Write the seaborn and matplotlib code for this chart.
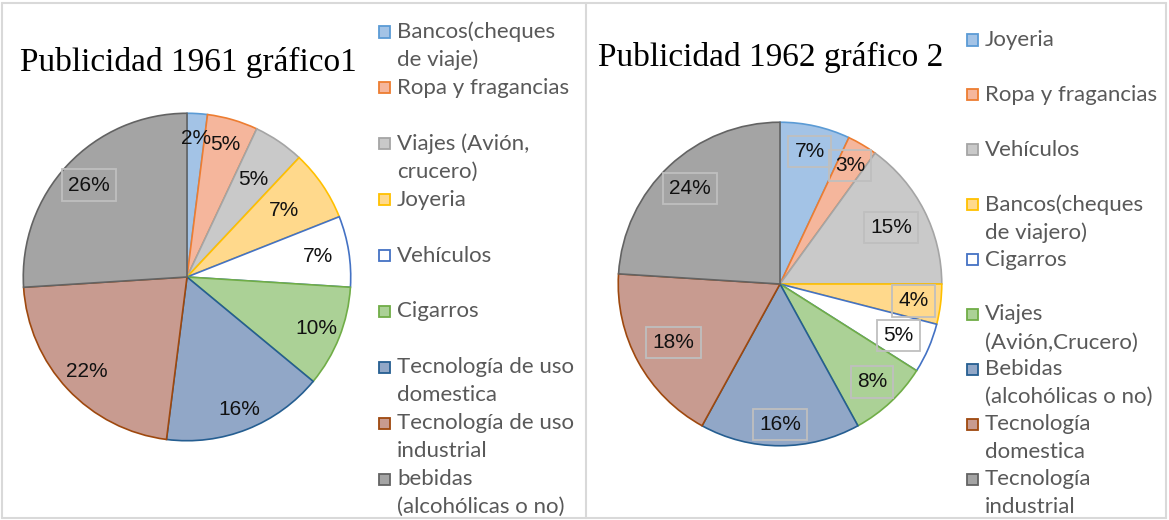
import matplotlib.pyplot as plt
import numpy as np
import seaborn as sns
from matplotlib.patches import Rectangle
from matplotlib.lines import Line2D

# data
labels_1961 = ['Bancos(cheques\nde viaje)', 'Ropa y fragancias', 'Viajes (Avión,\ncrucero)', 'Joyeria',
               'Vehículos', 'Cigarros', 'Tecnología de uso\ndomestica', 'Tecnología de uso\nindustrial',
               'bebidas\n(alcohólicas o no)']
values_1961 = [2, 5, 5, 7, 7, 10, 16, 22, 26]

labels_1962 = ['Joyeria', 'Ropa y fragancias', 'Vehículos', 'Bancos(cheques\nde viajero)', 'Cigarros',
               'Viajes\n(Avión,Crucero)', 'Bebidas\n(alcohólicas o no)', 'Tecnología\ndomestica',
               'Tecnología\nindustrial']
values_1962 = [7, 3, 15, 4, 5, 8, 16, 18, 24]

fills = ['#A3C3E6', '#F5B69C', '#C9C9C9', '#FFD98C', '#FFFFFF', '#ABD196', '#91A7C7', '#C89B90', '#A4A4A4']
edges = ['#5B9BD5', '#ED7D31', '#A5A5A5', '#FFC000', '#4472C4', '#70AD47', '#255E91', '#9E480E', '#636363']

sns.set_theme(style='white')
plt.rcParams['font.family'] = ['Liberation Sans', 'DejaVu Sans']

W, H = 1169, 520
fig = plt.figure(figsize=(W / 100, H / 100), dpi=100)


def fx(x):
    return x / W


def fy(y):
    return 1 - y / H


def draw_panel(cx, cy, r, values, labels, title, title_xy, leg_x, leg_y0, leg_y1, label_r, boxed):
    ax = fig.add_axes([fx(cx - r), fy(cy + r), 2 * r / W, 2 * r / H])
    wedges, _ = ax.pie(values, colors=fills, startangle=90, counterclock=False, radius=1,
                       wedgeprops=dict(linewidth=1.2))
    for w, ec in zip(wedges, edges):
        w.set_edgecolor(ec)
    ax.set_xlim(-1.02, 1.02)
    ax.set_ylim(-1.02, 1.02)
    ax.set_aspect('equal')
    ax.axis('off')
    for i, (w, v) in enumerate(zip(wedges, values)):
        mid = np.deg2rad((w.theta1 + w.theta2) / 2)
        rr = label_r[i]
        bb = dict(boxstyle='square,pad=0.3', fc='none', ec='#BFBFBF', lw=1.3) if i in boxed else None
        ax.text(rr * np.cos(mid), rr * np.sin(mid), '%d%%' % v, ha='center', va='center',
                fontsize=15, color='#111111', bbox=bb)

    fig.text(fx(title_xy[0]), fy(title_xy[1]), title, family='Liberation Serif', fontsize=24,
             color='black', ha='left', va='baseline')

    ys = np.linspace(leg_y0, leg_y1, len(labels))
    for lab, y, fc, ec in zip(labels, ys, fills, edges):
        fig.add_artist(Rectangle((fx(leg_x), fy(y + 5.5)), 11 / W, 11 / H, transform=fig.transFigure,
                                 facecolor=fc, edgecolor=ec, lw=1.3))
        for j, line in enumerate(lab.split('\n')):
            fig.text(fx(leg_x + 18), fy(y + j * 28), line, family=['Lato', 'DejaVu Sans'], fontsize=16,
                     color='#595959', ha='left', va='center')


draw_panel(187, 277, 167, values_1961, labels_1961, 'Publicidad 1961 gráfico1', (20, 71),
           379, 32, 479, [0.85, 0.84, 0.72, 0.72, 0.81, 0.85, 0.87, 0.84, 0.82], {8})
draw_panel(780, 284, 165, values_1962, labels_1962, 'Publicidad 1962 gráfico 2', (598, 66),
           967, 40, 479, [0.84, 0.85, 0.77, 0.83, 0.80, 0.83, 0.87, 0.75, 0.81], set(range(9)))

# panel borders
bc = '#D9D9D9'
for x in (2, 586, 1166):
    fig.add_artist(Line2D([fx(x), fx(x)], [fy(3), fy(518)], color=bc, lw=1.5, transform=fig.transFigure))
for y in (3, 518):
    fig.add_artist(Line2D([fx(2), fx(1166)], [fy(y), fy(y)], color=bc, lw=1.5, transform=fig.transFigure))

fig.savefig('out.png', dpi=100)
